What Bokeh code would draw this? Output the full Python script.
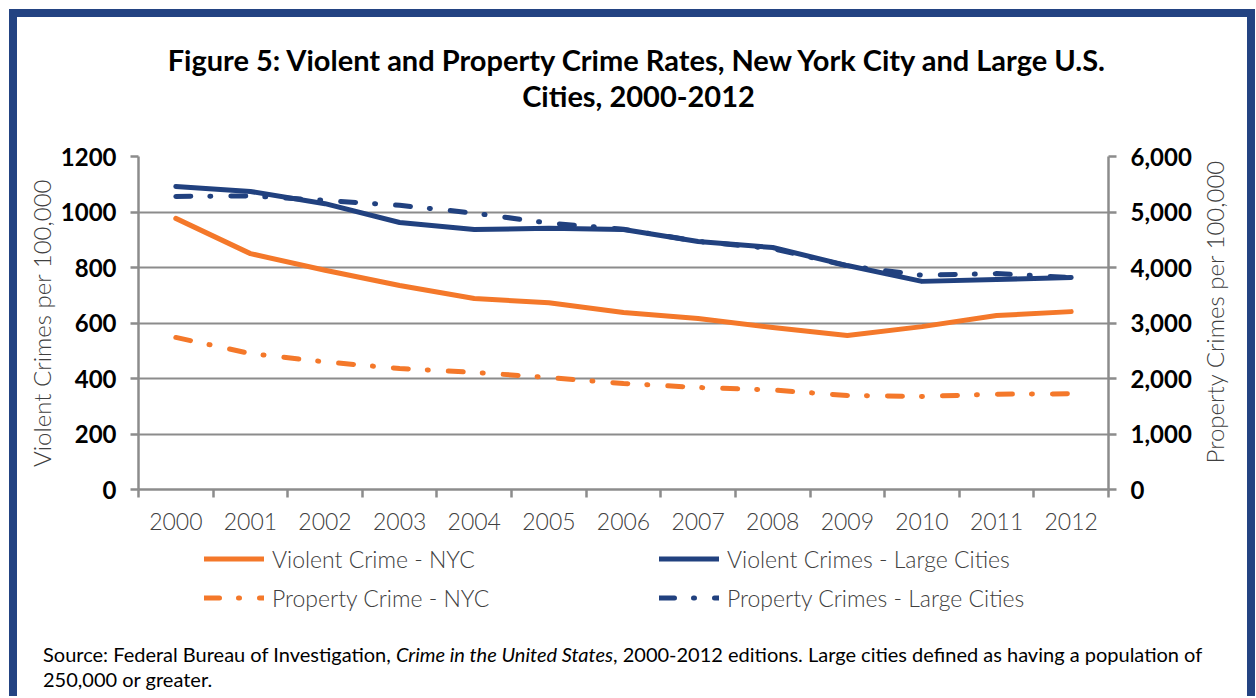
import math
from bokeh.plotting import figure
from bokeh.models import (Range1d, LinearAxis, FixedTicker, NumeralTickFormatter,
                          Legend, LegendItem, Grid, Label, Div)
from bokeh.layouts import column
from bokeh.embed import file_html
from bokeh.resources import INLINE

# ---------------- data ----------------
years = ["2000", "2001", "2002", "2003", "2004", "2005", "2006",
         "2007", "2008", "2009", "2010", "2011", "2012"]
violent_nyc = [977, 850, 790, 735, 688, 673, 638, 616, 584, 555, 587, 627, 641]
violent_large = [1092, 1074, 1030, 962, 937, 941, 937, 894, 872, 807, 750, 757, 764]
property_nyc = [2740, 2450, 2300, 2180, 2110, 2018, 1910, 1838, 1793, 1694, 1676, 1717, 1724]
property_large = [5280, 5290, 5210, 5120, 4980, 4800, 4690, 4470, 4340, 4030, 3860, 3890, 3820]
left_ticks = [0, 200, 400, 600, 800, 1000, 1200]
right_ticks = [0, 1000, 2000, 3000, 4000, 5000, 6000]
series_names = ["Violent Crime - NYC", "Property Crime - NYC",
                "Violent Crimes - Large Cities", "Property Crimes - Large Cities"]

ORANGE = "#F4782A"
BLUE = "#21417F"
FRAME = "#234382"
GRID = "#8C8C8C"
TXT = "#404040"
DASH = "15 19 1 20"

W = 1230
FRAME_W = 970          # plot frame width (frames of the stacked figures are aligned)
H_TOP, H_CHART, H_BOT = 123, 402, 86


def blank(h):
    f = figure(width=W, height=h, output_backend="svg", toolbar_location=None, title=None,
               x_range=Range1d(0, FRAME_W), y_range=Range1d(0, h),
               x_axis_type=None, y_axis_type=None,
               min_border_left=0, min_border_right=0, min_border_top=0, min_border_bottom=0)
    f.outline_line_color = None
    f.background_fill_color = "white"
    f.border_fill_color = "white"
    return f


# ---------------- title panel ----------------
p_top = blank(H_TOP)
for txt, yy in [("Figure 5: Violent and Property Crime Rates, New York City and Large U.S.", 81),
                ("Cities, 2000-2012", 45)]:
    p_top.add_layout(Label(x=500, y=yy, text=txt, text_align="center", text_baseline="alphabetic",
                           text_font="Lato", text_font_style="bold", text_font_size="29px",
                           text_color="#000000"))

# ---------------- chart ----------------
xs = [i + 0.5 for i in range(len(years))]
p = figure(width=W, height=H_CHART, output_backend="svg", toolbar_location=None, title=None,
           x_range=Range1d(0, len(years)), y_range=Range1d(0, 1200),
           x_axis_type=None, y_axis_type=None,
           min_border_left=121, min_border_right=139, min_border_top=16, min_border_bottom=53)
p.extra_y_ranges = {"prop": Range1d(0, 6000)}
p.outline_line_color = None
p.background_fill_color = "white"
p.border_fill_color = "white"

p.add_layout(Grid(dimension=1, ticker=FixedTicker(ticks=left_ticks),
                  grid_line_color=GRID, grid_line_width=2))

axis_common = dict(axis_line_color=GRID, axis_line_width=2.5,
                   major_tick_line_color=GRID, major_tick_line_width=2.5,
                   major_tick_in=0, major_tick_out=8, minor_tick_line_color=None)

yl = LinearAxis(ticker=FixedTicker(ticks=left_ticks), axis_label="Violent Crimes per 100,000",
                major_label_text_font="Lato", major_label_text_font_style="bold",
                major_label_text_font_size="24px", major_label_text_color="#000000",
                major_label_standoff=14,
                axis_label_text_font="Lato Light", axis_label_text_font_style="normal",
                axis_label_text_font_size="24px", axis_label_text_color=TXT,
                axis_label_standoff=2, **axis_common)
p.add_layout(yl, "left")

yr = LinearAxis(y_range_name="prop", ticker=FixedTicker(ticks=right_ticks),
                formatter=NumeralTickFormatter(format="0,0"),
                axis_label="\u00a0\u00a0\u00a0\u00a0Property Crimes per 100,000",
                major_label_text_font="Lato", major_label_text_font_style="bold",
                major_label_text_font_size="24px", major_label_text_color="#000000",
                major_label_standoff=14,
                axis_label_text_font="Lato Light", axis_label_text_font_style="normal",
                axis_label_text_font_size="24px", axis_label_text_color=TXT,
                axis_label_standoff=20, **axis_common)
_props = LinearAxis.properties()
if "axis_label_orientation" in _props:
    yr.axis_label_orientation = math.pi / 2
if "axis_label_align" in _props:
    yr.axis_label_align = "start"
p.add_layout(yr, "right")

xa = LinearAxis(ticker=FixedTicker(ticks=xs, minor_ticks=list(range(len(years) + 1))),
                major_label_overrides={x: y for x, y in zip(xs, years)},
                axis_line_color=GRID, axis_line_width=2.5,
                major_tick_line_color=None, major_tick_out=8, major_tick_in=0,
                minor_tick_line_color=GRID, minor_tick_line_width=2.5,
                minor_tick_out=8, minor_tick_in=0,
                major_label_text_font="Lato Light", major_label_text_font_size="23px",
                major_label_text_color=TXT, major_label_standoff=15)
p.add_layout(xa, "below")

styles = {
    "Violent Crime - NYC": dict(line_color=ORANGE),
    "Property Crime - NYC": dict(line_color=ORANGE, line_dash=DASH),
    "Violent Crimes - Large Cities": dict(line_color=BLUE),
    "Property Crimes - Large Cities": dict(line_color=BLUE, line_dash=DASH),
}
line_common = dict(line_width=5, line_cap="round", line_join="round")
values = {"Violent Crime - NYC": violent_nyc, "Property Crime - NYC": property_nyc,
          "Violent Crimes - Large Cities": violent_large,
          "Property Crimes - Large Cities": property_large}

p.line(xs, property_large, y_range_name="prop", **styles[series_names[3]], **line_common)
p.line(xs, property_nyc, y_range_name="prop", **styles[series_names[1]], **line_common)
p.line(xs, violent_large, **styles[series_names[2]], **line_common)
p.line(xs, violent_nyc, **styles[series_names[0]], **line_common)

# ---------------- legend panel ----------------
p_bot = blank(H_BOT)
# legend keys: same series, drawn outside this strip's visible range (only the key shows)
keys = {name: p_bot.line(xs, values[name], **styles[name], **line_common) for name in series_names}

legend_common = dict(orientation="vertical", glyph_height=31, label_height=31, spacing=8,
                     glyph_width=60, label_standoff=8,
                     padding=0, margin=0, border_line_color=None, background_fill_alpha=0,
                     label_text_font="Lato Light", label_text_font_size="23px",
                     label_text_color=TXT)
leg1 = Legend(items=[LegendItem(label=n, renderers=[keys[n]]) for n in series_names[:2]],
              location=(66, 15), **legend_common)
leg2 = Legend(items=[LegendItem(label=n, renderers=[keys[n]]) for n in series_names[2:]],
              location=(521, 15), **legend_common)
p_bot.add_layout(leg1)
p_bot.add_layout(leg2)

# ---------------- source note ----------------
src = Div(width=W, height=68, margin=(0, 0, 0, 0),
          text=('<div style="font-family: Lato; font-size: 20px; line-height: 25px; '
                'color: #000; padding-left: 26px; padding-top: 14px; white-space: nowrap;">'
                'Source: Federal Bureau of Investigation, <i>Crime in the United States</i>, '
                '2000-2012 editions. Large cities defined as having a population of<br>'
                '250,000 or greater.</div>'))

layout = column(p_top, p, p_bot, src, spacing=0, margin=(9, 0, 0, 9),
                styles={"border-top": f"8px solid {FRAME}",
                        "border-left": f"8px solid {FRAME}",
                        "border-right": f"8px solid {FRAME}",
                        "background-color": "white"})

open("out.html", "w").write(file_html(layout, INLINE))
